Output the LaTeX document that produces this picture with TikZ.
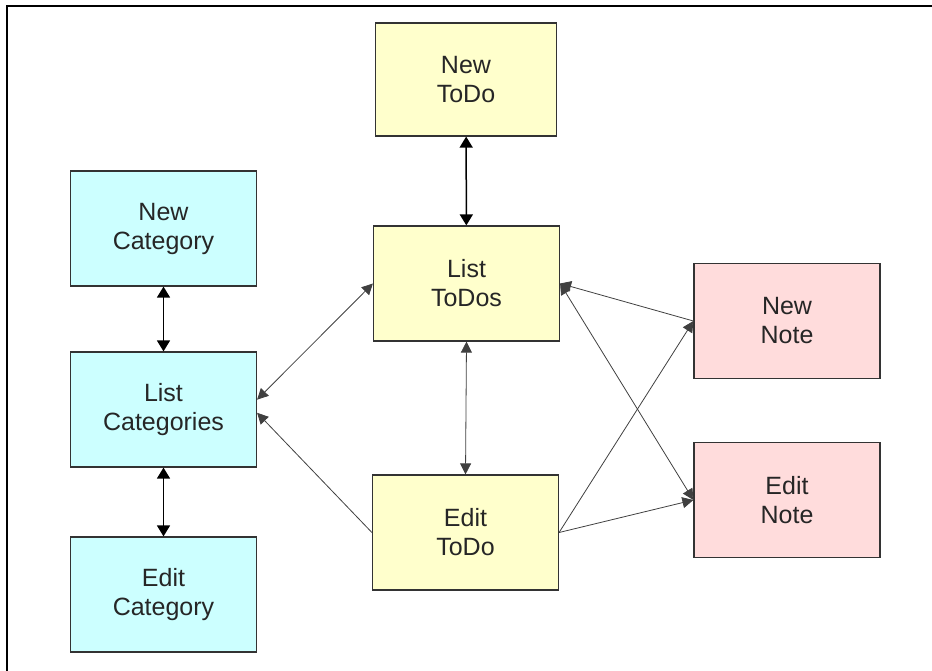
\documentclass[tikz,border=0pt]{standalone}
\usepackage{fontspec}
\setmainfont{Liberation Sans}
\usetikzlibrary{arrows.meta}
\definecolor{catblue}{HTML}{CCFFFF}
\definecolor{todoyellow}{HTML}{FFFFCC}
\definecolor{notepink}{HTML}{FFDCDC}
\definecolor{boxline}{HTML}{333333}

\begin{document}
\begin{tikzpicture}
	[
	x = 100pt, y = 100pt,
	box/.style={draw = boxline, line width = 1.2pt, shape = rectangle, minimum width = 186pt, minimum height = 115pt, align = center, text = black!85, font = \fontsize{25}{29}\selectfont},
	cat/.style={box, fill = catblue},
	todo/.style={box, fill = todoyellow},
	note/.style={box, fill = notepink},
	tip/.tip={Triangle[length = 11pt, width = 11pt]},
	bigtip/.tip={Triangle[length = 11pt, width = 13pt]},
	link/.style={draw = black!75, line width = 0.8pt, -tip},
	twoway/.style={link, tip-tip},
	stem/.style={draw = black, line width = 1.5pt, bigtip-bigtip}
	]
	
	\useasboundingbox (0,0) rectangle (9.32,-6.71);
	\draw[line width = 1.5pt] (0.07,-6.71) -- (0.07,-0.06) -- (9.32,-0.06);
	
	% Categories, top to bottom
	\node[cat](NC) at (1.635, -2.285){New\\Category};
	\node[cat](LC) at (1.635, -4.095){List\\Categories};
	\node[cat](EC) at (1.635, -5.945){Edit\\Category};
	
	% ToDos, top to bottom
	\node[todo, minimum width = 181pt, minimum height = 113pt](NT) at (4.66, -0.795){New\\ToDo};
	\node[todo](LT) at (4.665, -2.835){List\\ToDos};
	\node[todo](ET) at (4.655, -5.325){Edit\\ToDo};
	
	% Notes
	\node[note](NN) at (7.87, -3.21){New\\Note};
	\node[note](EN) at (7.87, -5.00){Edit\\Note};
	
	\draw[stem] (NC) -- (LC);
	\draw[stem] (LC) -- (EC);
	\draw[stem] (NT) -- (LT);
	\draw[twoway] (LT.south) -- (ET.north);
	
	\draw[twoway] (LC.6) -- (LT.west);
	\draw[link] (ET.west) -- (LC.-2);
	
	\draw[link] (NN.west) -- (LT.east);
	\draw[twoway] (LT.east) -- (EN.west);
	\draw[link] (ET.east) -- (NN.west);
	\draw[link] (ET.east) -- (EN.west);
\end{tikzpicture}
\end{document}
